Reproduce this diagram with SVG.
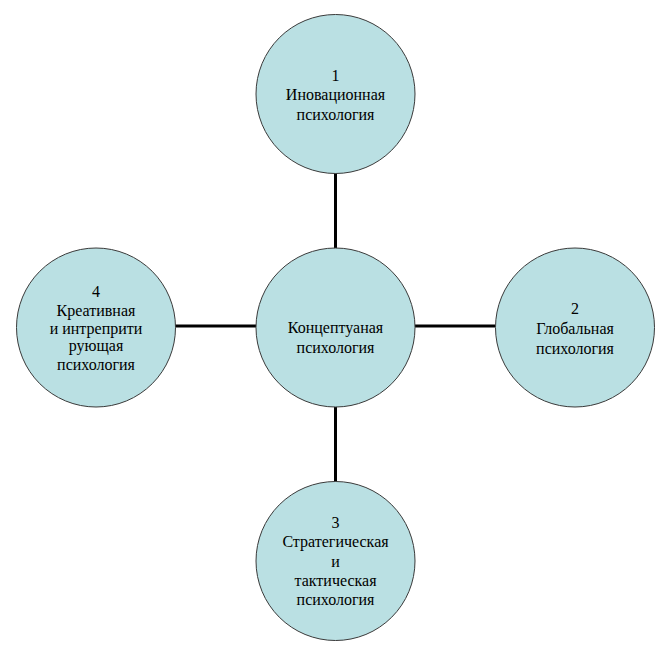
<svg xmlns="http://www.w3.org/2000/svg" width="672" height="655" viewBox="0 0 672 655">
<style>
.node circle{fill:#BAE0E3;stroke:#3a3a3a;stroke-width:1}
.node text{font-family:'Liberation Serif','Times New Roman',serif;font-size:16px;fill:#000;text-anchor:middle}
.conn line{stroke:#000;stroke-width:3}
</style>
<rect width="672" height="655" fill="#fff"/>
<g id="connectors" class="conn">
<line x1="335.5" y1="172" x2="335.5" y2="250"/>
<line x1="335.5" y1="405" x2="335.5" y2="484"/>
<line x1="175" y1="326" x2="256" y2="326"/>
<line x1="415" y1="326" x2="495" y2="326"/>
</g>
<g id="node-center" class="node">
<circle cx="335.5" cy="327.5" r="79.5"/>
<text x="335.5" y="333">Концептуаная</text>
<text x="335.5" y="353">психология</text>
</g>
<g id="node-1" class="node">
<circle cx="335.5" cy="94" r="79.5"/>
<text x="335.5" y="81">1</text>
<text x="335.5" y="100">Иновационная</text>
<text x="335.5" y="120">психология</text>
</g>
<g id="node-2" class="node">
<circle cx="575" cy="327.5" r="79.5"/>
<text x="575" y="314">2</text>
<text x="575" y="333.5">Глобальная</text>
<text x="575" y="353.5">психология</text>
</g>
<g id="node-3" class="node">
<circle cx="335.5" cy="561" r="79.5"/>
<text x="335.5" y="527.5">3</text>
<text x="335.5" y="547">Стратегическая</text>
<text x="335.5" y="566.5">и</text>
<text x="335.5" y="585.5">тактическая</text>
<text x="335.5" y="605">психология</text>
</g>
<g id="node-4" class="node">
<circle cx="96" cy="327.5" r="79.5"/>
<text x="96" y="297">4</text>
<text x="96" y="315.5">Креативная</text>
<text x="96" y="333.5">и интреприти</text>
<text x="96" y="351">рующая</text>
<text x="96" y="370">психология</text>
</g>
</svg>
